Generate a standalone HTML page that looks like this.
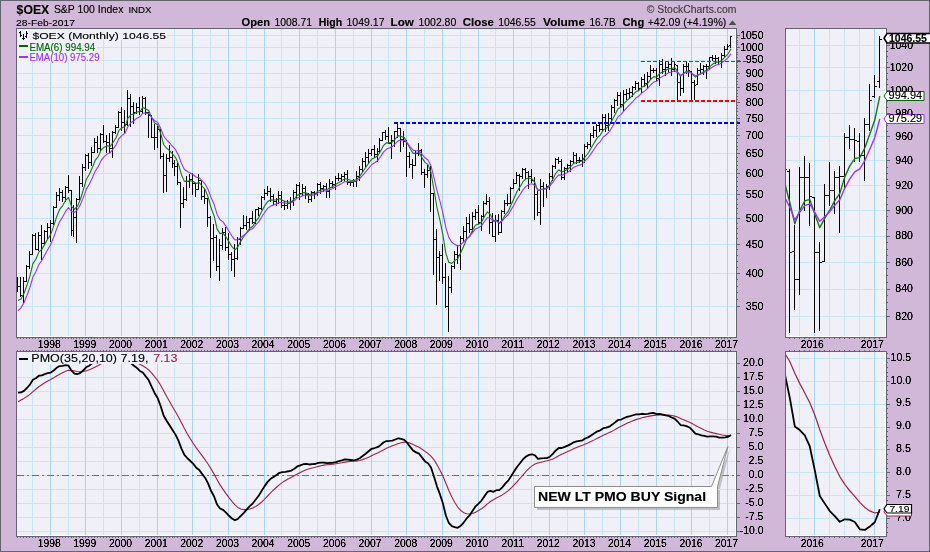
<!DOCTYPE html>
<html><head><meta charset="utf-8"><style>
html,body{margin:0;padding:0;width:930px;height:552px;overflow:hidden;background:#d2b8d8}
</style></head><body>
<svg width="930" height="552" viewBox="0 0 930 552" style="position:absolute;left:0;top:0" shape-rendering="crispEdges">
<defs><filter id="crisp" x="0" y="0" width="100%" height="100%" color-interpolation-filters="sRGB"><feComponentTransfer><feFuncA type="linear" slope="2" intercept="-0.2"/></feComponentTransfer></filter><filter id="soft" x="0" y="0" width="100%" height="100%" color-interpolation-filters="sRGB"><feComponentTransfer><feFuncA type="gamma" amplitude="1" exponent="0.75" offset="0"/></feComponentTransfer></filter></defs>
<rect x="0" y="0" width="930" height="552" fill="#d2b8d8"/>
<rect x="0.5" y="0.5" width="929" height="551" fill="none" stroke="#646470" stroke-width="1"/>
<rect x="16" y="28" width="720" height="309" fill="#eff0f8"/>
<clipPath id="cm"><rect x="17" y="29" width="719" height="308"/></clipPath>
<path d="M17 306.5H736 M17 273.5H736 M17 244.5H736 M17 218.5H736 M17 194.5H736 M17 173.5H736 M17 153.5H736 M17 135.5H736 M17 118.5H736 M17 102.5H736 M17 87.5H736 M17 73.5H736 M17 60.5H736 M17 47.5H736 M17 35.5H736 M32.5 29V337 M68.5 29V337 M103.5 29V337 M139.5 29V337 M174.5 29V337 M210.5 29V337 M246.5 29V337 M281.5 29V337 M317.5 29V337 M353.5 29V337 M388.5 29V337 M424.5 29V337 M460.5 29V337 M495.5 29V337 M531.5 29V337 M567.5 29V337 M602.5 29V337 M638.5 29V337 M674.5 29V337 M709.5 29V337" stroke="#c6e7ef" stroke-width="1" fill="none"/>
<path d="M50.5 29V337 M85.5 29V337 M121.5 29V337 M157.5 29V337 M192.5 29V337 M228.5 29V337 M264.5 29V337 M299.5 29V337 M335.5 29V337 M371.5 29V337 M406.5 29V337 M442.5 29V337 M478.5 29V337 M513.5 29V337 M549.5 29V337 M584.5 29V337 M620.5 29V337 M656.5 29V337 M691.5 29V337 M727.5 29V337" stroke="#a3d7ee" stroke-width="1" fill="none"/>
<g clip-path="url(#cm)">
<path d="M17.5 277V292M16 288.5H17M18 286.5H19 M20.5 277V297M19 286.5H20M21 295.5H22 M23.5 277V303M22 295.5H23M24 281.5H25 M26.5 265V282M25 281.5H26M27 266.5H28 M29.5 251V269M28 266.5H29M30 254.5H31 M32.5 234V255M31 254.5H32M33 235.5H34 M35.5 233V250M34 235.5H35M36 249.5H37 M38.5 232V251M37 249.5H38M39 235.5H40 M41.5 225V260M40 235.5H41M42 243.5H43 M44.5 230V245M43 243.5H44M45 231.5H46 M47.5 223V240M46 231.5H47M48 227.5H49 M50.5 220V242M49 227.5H50M51 223.5H52 M53.5 206V225M52 223.5H53M54 207.5H55 M56.5 192V208M55 207.5H56M57 195.5H58 M59.5 188V201M58 195.5H59M60 192.5H61 M62.5 190V202M61 192.5H62M63 197.5H64 M65.5 186V202M64 197.5H65M66 187.5H67 M68.5 175V193M67 187.5H68M69 190.5H70 M71.5 190V236M70 190.5H71M72 230.5H73 M73.5 205V237M72 230.5H73M74 217.5H75 M76.5 198V243M75 217.5H76M77 199.5H78 M79.5 176V200M78 199.5H79M80 183.5H81 M82.5 164V187M81 183.5H82M83 167.5H84 M85.5 154V171M84 167.5H85M86 155.5H87 M88.5 153V169M87 155.5H88M89 162.5H90 M91.5 147V166M90 162.5H91M92 152.5H93 M94.5 138V153M93 152.5H94M95 142.5H96 M97.5 136V153M96 142.5H97M98 148.5H99 M100.5 133V152M99 148.5H100M101 134.5H102 M103.5 125V143M102 134.5H103M104 141.5H105 M106.5 135V153M105 141.5H106M107 142.5H108 M109.5 133V153M108 142.5H109M110 148.5H111 M112.5 131V158M111 148.5H112M113 132.5H114 M115.5 125V134M114 132.5H115M116 127.5H117 M118.5 111V128M117 127.5H118M119 112.5H120 M121.5 107V131M120 112.5H121M122 122.5H123 M124.5 110V133M123 122.5H124M125 124.5H126 M127.5 90V126M126 124.5H127M128 98.5H129 M130.5 94V127M129 98.5H130M131 106.5H132 M133.5 102V124M132 106.5H133M134 112.5H135 M136.5 103V114M135 112.5H136M137 107.5H138 M139.5 97V115M138 107.5H139M140 111.5H141 M142.5 96V114M141 111.5H142M143 98.5H144 M145.5 97V115M144 98.5H145M146 112.5H147 M148.5 112V138M147 112.5H148M149 115.5H150 M151.5 115V138M150 115.5H151M152 137.5H153 M154.5 124V150M153 137.5H154M155 137.5H156 M157.5 126V148M156 137.5H157M158 129.5H159 M160.5 129V159M159 129.5H160M161 156.5H162 M163.5 153V193M162 156.5H163M164 175.5H165 M166.5 154V192M165 175.5H166M167 158.5H168 M169.5 145V162M168 158.5H169M170 157.5H171 M172.5 151V168M171 157.5H172M173 163.5H174 M174.5 160V176M173 163.5H174M175 166.5H176 M177.5 163V185M176 166.5H177M178 182.5H179 M180.5 182V228M179 182.5H180M181 203.5H182 M183.5 187V208M182 203.5H183M184 199.5H185 M186.5 176V201M185 199.5H186M187 181.5H188 M189.5 174V188M188 181.5H189M190 179.5H191 M192.5 173V195M191 179.5H192M193 183.5H194 M195.5 183V197M194 183.5H195M196 189.5H197 M198.5 174V190M197 189.5H198M199 180.5H200 M201.5 180V200M200 180.5H201M202 196.5H203 M204.5 189V204M203 196.5H204M205 198.5H206 M207.5 198V227M206 198.5H207M208 217.5H209 M210.5 216V278M209 217.5H210M211 238.5H212 M213.5 224V261M212 238.5H213M214 237.5H215 M216.5 235V271M215 237.5H216M217 266.5H218 M219.5 239V281M218 266.5H219M220 245.5H221 M222.5 228V250M221 245.5H222M223 232.5H224 M225.5 227V251M224 232.5H225M226 247.5H227 M228.5 233V260M227 247.5H228M229 254.5H230 M231.5 252V271M230 254.5H231M232 259.5H233 M234.5 244V277M233 259.5H234M235 258.5H236 M237.5 237V260M236 258.5H237M238 239.5H239 M240.5 227V245M239 239.5H240M241 228.5H242 M243.5 215V229M242 228.5H243M244 225.5H245 M246.5 216V230M245 225.5H246M247 222.5H248 M249.5 218V231M248 222.5H249M250 218.5H251 M252.5 211V224M251 218.5H252M253 222.5H254 M255.5 209V224M254 222.5H255M256 209.5H257 M258.5 207V216M257 209.5H258M259 208.5H260 M261.5 196V210M260 208.5H261M262 197.5H263 M264.5 189V200M263 197.5H264M265 193.5H266 M267.5 186V196M266 193.5H267M268 191.5H269 M270.5 188V202M269 191.5H270M271 196.5H272 M273.5 194V205M272 196.5H273M274 201.5H275 M276.5 198V206M275 201.5H276M277 199.5H278 M278.5 191V204M277 199.5H278M279 195.5H280 M281.5 191V208M280 195.5H281M282 205.5H283 M284.5 201V210M283 205.5H284M285 205.5H286 M287.5 200V209M286 205.5H287M288 203.5H289 M290.5 197V210M289 203.5H290M291 201.5H292 M293.5 190V206M292 201.5H293M294 192.5H295 M296.5 184V198M295 192.5H296M297 185.5H298 M299.5 182V200M298 185.5H299M300 193.5H301 M302.5 184V196M301 193.5H302M303 188.5H304 M305.5 186V199M304 188.5H305M306 194.5H307 M308.5 193V203M307 194.5H308M309 199.5H310 M311.5 191V202M310 199.5H311M312 192.5H313 M314.5 191V199M313 192.5H314M315 193.5H316 M317.5 183V196M316 193.5H317M318 184.5H319 M320.5 182V194M319 184.5H320M321 188.5H322 M323.5 185V192M322 188.5H323M324 186.5H325 M326.5 183V198M325 186.5H326M327 191.5H328 M329.5 179V198M328 191.5H329M330 183.5H331 M332.5 181V188M331 183.5H332M333 184.5H334 M335.5 176V190M334 184.5H335M336 178.5H337 M338.5 173V181M337 178.5H338M339 178.5H340 M341.5 174V182M340 178.5H341M342 176.5H343 M344.5 172V181M343 176.5H344M345 174.5H346 M347.5 170V185M346 174.5H347M348 182.5H349 M350.5 181V186M349 182.5H350M351 182.5H352 M353.5 179V187M352 182.5H353M354 181.5H355 M356.5 171V187M355 181.5H356M357 176.5H358 M359.5 166V181M358 176.5H359M360 169.5H361 M362.5 158V172M361 169.5H362M363 161.5H364 M365.5 152V167M364 161.5H365M366 157.5H367 M368.5 149V163M367 157.5H368M369 153.5H370 M371.5 149V156M370 153.5H371M372 149.5H373 M374.5 145V158M373 149.5H374M375 154.5H376 M377.5 148V162M376 154.5H377M378 151.5H379 M379.5 138V153M378 151.5H379M380 140.5H381 M382.5 132V141M381 140.5H382M383 132.5H384 M385.5 130V140M384 132.5H385M386 136.5H387 M388.5 127V144M387 136.5H388M389 143.5H390 M391.5 135V159M390 143.5H391M392 140.5H393 M394.5 131V147M393 140.5H394M395 131.5H396 M397.5 123V138M396 131.5H397M398 128.5H399 M400.5 128V152M399 128.5H400M401 139.5H402 M403.5 131V147M402 139.5H403M404 141.5H405 M406.5 140V177M405 141.5H406M407 156.5H408 M409.5 152V168M408 156.5H409M410 164.5H411 M412.5 159V179M411 164.5H412M413 165.5H414 M415.5 150V166M414 165.5H415M416 153.5H417 M418.5 143V156M417 153.5H418M419 150.5H420 M421.5 149V175M420 150.5H421M422 172.5H423 M424.5 169V188M423 172.5H424M425 174.5H426 M427.5 165V178M426 174.5H427M428 170.5H429 M430.5 166V212M429 170.5H430M431 193.5H432 M433.5 193V275M432 193.5H433M434 239.5H435 M436.5 229V305M435 239.5H436M437 257.5H438 M439.5 251V281M438 257.5H439M440 255.5H441 M442.5 244V284M441 255.5H442M443 277.5H444 M445.5 263V308M444 277.5H445M446 306.5H447 M448.5 276V332M447 306.5H448M449 287.5H450 M451.5 265V293M450 287.5H451M452 266.5H453 M454.5 251V269M453 266.5H454M455 254.5H456 M457.5 245V264M456 254.5H457M458 255.5H459 M460.5 236V270M459 255.5H460M461 238.5H462 M463.5 226V242M462 238.5H463M464 231.5H465 M466.5 217V239M465 231.5H466M467 223.5H468 M469.5 214V233M468 223.5H469M470 229.5H471 M472.5 212V232M471 229.5H472M473 216.5H474 M475.5 209V220M474 216.5H475M476 212.5H477 M478.5 205V224M477 212.5H478M479 222.5H480 M481.5 215V231M480 222.5H481M482 216.5H483 M483.5 201V218M482 216.5H483M484 203.5H485 M486.5 194V205M485 203.5H486M487 201.5H488 M489.5 197V234M488 201.5H489M490 222.5H491 M492.5 213V237M491 222.5H492M493 236.5H494 M495.5 215V242M494 236.5H495M496 220.5H497 M498.5 214V235M497 220.5H498M499 232.5H500 M501.5 210V233M500 232.5H501M502 211.5H503 M504.5 200V214M503 211.5H504M505 203.5H506 M507.5 194V206M506 203.5H507M508 203.5H509 M510.5 187V204M509 203.5H510M511 188.5H512 M513.5 179V189M512 188.5H513M514 183.5H515 M516.5 172V184M515 183.5H516M517 175.5H518 M519.5 174V191M518 175.5H519M520 176.5H521 M522.5 168V179M521 176.5H522M523 169.5H524 M525.5 168V180M524 169.5H525M526 172.5H527 M528.5 171V189M527 172.5H528M529 176.5H530 M531.5 169V183M530 176.5H531M532 180.5H533 M534.5 177V220M533 180.5H534M535 194.5H536 M537.5 191V216M536 194.5H537M538 212.5H539 M540.5 179V225M539 212.5H540M541 186.5H542 M543.5 182V207M542 186.5H543M544 188.5H545 M546.5 184V198M545 188.5H546M547 186.5H548 M549.5 173V190M548 186.5H549M550 176.5H551 M552.5 165V181M551 176.5H552M553 166.5H554 M555.5 158V169M554 166.5H555M556 159.5H557 M558.5 157V164M557 159.5H558M559 161.5H560 M561.5 159V180M560 161.5H561M562 177.5H563 M564.5 167V180M563 177.5H564M565 168.5H566 M567.5 164V172M566 168.5H567M568 165.5H569 M570.5 160V172M569 165.5H570M571 161.5H572 M573.5 152V163M572 161.5H573M574 155.5H575 M576.5 153V164M575 155.5H576M577 160.5H578 M579.5 157V163M578 160.5H579M580 160.5H581 M582.5 154V167M581 160.5H582M583 158.5H584 M584.5 144V163M583 158.5H584M585 146.5H586 M587.5 142V149M586 146.5H587M588 144.5H589 M590.5 133V147M589 144.5H590M591 135.5H592 M593.5 126V138M592 135.5H593M594 130.5H595 M596.5 124V137M595 130.5H596M597 125.5H598 M599.5 122V132M598 125.5H599M600 129.5H601 M602.5 114V131M601 129.5H602M603 117.5H604 M605.5 114V132M604 117.5H605M606 125.5H607 M608.5 113V131M607 125.5H608M609 118.5H610 M611.5 105V122M610 118.5H611M612 107.5H613 M614.5 99V113M613 107.5H614M615 100.5H616 M617.5 92V106M616 100.5H617M618 95.5H619 M620.5 92V107M619 95.5H620M621 104.5H622 M623.5 90V111M622 104.5H623M624 94.5H625 M626.5 89V100M625 94.5H626M627 93.5H628 M629.5 88V99M628 93.5H629M630 92.5H631 M632.5 86V97M631 92.5H632M633 87.5H634 M635.5 81V90M634 87.5H635M636 83.5H637 M638.5 82V91M637 83.5H638M639 88.5H640 M641.5 77V93M640 88.5H641M642 79.5H643 M644.5 74V87M643 79.5H644M645 83.5H646 M647.5 72V89M646 83.5H647M648 76.5H649 M650.5 65V80M649 76.5H650M651 70.5H652 M653.5 68V73M652 70.5H653M654 70.5H655 M656.5 68V81M655 70.5H656M657 78.5H658 M659.5 60V86M658 78.5H659M660 64.5H661 M662.5 59V74M661 64.5H662M663 69.5H664 M665.5 62V76M664 69.5H665M666 67.5H667 M668.5 62V73M667 67.5H668M669 64.5H670 M671.5 58V76M670 64.5H671M672 69.5H673 M674.5 61V72M673 69.5H674M675 64.5H676 M677.5 65V101M676 65.5H677M678 82.5H679 M680.5 76V96M679 82.5H680M681 88.5H682 M683.5 64V93M682 88.5H683M684 66.5H685 M686.5 62V74M685 66.5H686M687 66.5H688 M688.5 63V77M687 66.5H688M689 70.5H690 M691.5 71V101M690 71.5H691M692 82.5H693 M694.5 80V100M693 82.5H694M695 85.5H696 M697.5 68V85M696 84.5H697M698 70.5H699 M700.5 63V73M699 70.5H700M701 69.5H702 M703.5 65V75M702 69.5H703M704 66.5H705 M706.5 64V79M705 66.5H706M707 66.5H708 M709.5 57V70M708 66.5H709M710 57.5H711 M712.5 55V61M711 57.5H712M713 58.5H714 M715.5 55V64M714 58.5H715M716 58.5H717 M718.5 57V64M717 58.5H718M719 61.5H720 M721.5 53V68M720 61.5H721M722 55.5H723 M724.5 46V57M723 55.5H724M725 49.5H726 M727.5 44V50M726 49.5H727M728 46.5H729 M730.5 36V48M729 45.5H730M731 36.5H732" stroke="#000" stroke-width="1" fill="none"/>
<path d="M18.03 300.47 L21 299.02 L23.97 293.61 L26.94 285.3 L29.91 276.05 L32.89 263.59 L35.86 259.25 L38.83 252.1 L41.8 249.45 L44.77 244.13 L47.74 239.01 L50.71 234.43 L53.68 226.14 L56.65 216.68 L59.62 209.46 L62.6 205.83 L65.57 200.43 L68.54 197.5 L71.51 206.45 L74.48 209.3 L77.45 206.22 L80.42 199.22 L83.39 189.58 L86.36 179.24 L89.34 174.32 L92.31 167.8 L95.28 160.22 L98.25 156.56 L101.22 149.84 L104.19 147.28 L107.16 145.7 L110.13 146.39 L113.1 142.3 L116.07 137.8 L119.04 130.1 L122.02 127.71 L124.99 126.64 L127.96 118.23 L130.93 114.77 L133.9 114.02 L136.87 111.89 L139.84 111.65 L142.81 107.57 L145.78 108.93 L148.75 110.58 L151.73 117.72 L154.7 122.98 L157.67 124.81 L160.64 133.3 L163.61 144.47 L166.58 148.18 L169.55 150.54 L172.52 154.01 L175.49 157.28 L178.47 164.12 L181.44 174.68 L184.41 181.36 L187.38 181.3 L190.35 180.75 L193.32 181.49 L196.29 183.53 L199.26 182.52 L202.23 186.26 L205.2 189.65 L208.17 197.18 L211.15 208.06 L214.12 215.88 L217.09 229.08 L220.06 233.6 L223.03 233.08 L226 237.08 L228.97 241.91 L231.94 246.74 L234.91 249.86 L237.88 246.77 L240.86 241.13 L243.83 236.54 L246.8 232.31 L249.77 228.23 L252.74 226.41 L255.71 221.4 L258.68 217.56 L261.65 211.39 L264.62 206 L267.6 201.58 L270.57 199.9 L273.54 200.16 L276.51 199.73 L279.48 198.41 L282.45 200.16 L285.42 201.5 L288.39 202.06 L291.36 201.72 L294.33 199.03 L297.31 195.06 L300.28 194.35 L303.25 192.64 L306.22 192.91 L309.19 194.66 L312.16 193.96 L315.13 193.6 L318.1 190.94 L321.07 189.99 L324.04 188.96 L327.01 189.61 L329.99 187.75 L332.96 186.62 L335.93 184.15 L338.9 182.5 L341.87 180.67 L344.84 178.63 L347.81 179.53 L350.78 180.3 L353.75 180.63 L356.73 179.23 L359.7 176.37 L362.67 171.95 L365.64 167.52 L368.61 163.35 L371.58 159.27 L374.55 157.82 L377.52 155.93 L380.49 151.36 L383.46 145.62 L386.44 142.76 L389.41 142.9 L392.38 142.07 L395.35 138.92 L398.32 135.61 L401.29 136.44 L404.26 137.62 L407.23 142.75 L410.2 148.72 L413.17 153.35 L416.15 153.35 L419.12 152.47 L422.09 157.88 L425.06 162.36 L428.03 164.65 L431 172.54 L433.97 189.72 L436.94 207.27 L439.91 220.01 L442.88 234.93 L445.86 253.31 L448.83 262.46 L451.8 263.38 L454.77 260.6 L457.74 258.88 L460.71 252.68 L463.68 246.17 L466.65 239.26 L469.62 236.18 L472.59 230.17 L475.57 224.93 L478.54 224.23 L481.51 221.98 L484.48 216.49 L487.45 211.83 L490.42 214.65 L493.39 220.49 L496.36 220.22 L499.33 223.46 L502.3 219.91 L505.27 214.82 L508.25 211.47 L511.22 204.51 L514.19 198.05 L517.16 191.26 L520.13 186.66 L523.1 181.42 L526.07 178.79 L529.04 177.99 L532.01 178.7 L534.99 182.99 L537.96 190.83 L540.93 189.49 L543.9 189 L546.87 188.14 L549.84 184.55 L552.81 179.21 L555.78 173.27 L558.75 169.77 L561.72 171.94 L564.7 170.84 L567.67 169.23 L570.64 166.76 L573.61 163.35 L576.58 162.44 L579.55 161.66 L582.52 160.68 L585.49 156.5 L588.46 152.76 L591.43 147.53 L594.4 142.54 L597.38 137.53 L600.35 135.1 L603.32 129.87 L606.29 128.49 L609.26 125.4 L612.23 120.03 L615.2 114.22 L618.17 108.46 L621.14 107.2 L624.12 103.42 L627.09 100.41 L630.06 97.98 L633.03 94.92 L636 91.55 L638.97 90.41 L641.94 87.09 L644.91 85.79 L647.88 83.06 L650.85 79.21 L653.83 76.65 L656.8 76.93 L659.77 73.29 L662.74 71.98 L665.71 70.43 L668.68 68.58 L671.65 68.76 L674.62 67.5 L677.59 71.69 L680.56 76.31 L683.54 73.37 L686.51 71.32 L689.48 71.01 L692.45 74.21 L695.42 77.13 L698.39 75.07 L701.36 73.34 L704.33 71.27 L707.3 69.71 L710.27 66.13 L713.25 63.75 L716.22 62.16 L719.19 61.96 L722.16 59.88 L725.13 56.85 L728.1 53.83 L731.07 48.67" stroke="#137a13" stroke-width="1.1" fill="none" stroke-linejoin="round" shape-rendering="geometricPrecision" />
<path d="M18.03 310.73 L21 307.87 L23.97 302.68 L26.94 295.53 L29.91 287.51 L32.89 277.08 L35.86 271.68 L38.83 264.61 L41.8 260.52 L44.77 254.95 L47.74 249.56 L50.71 244.58 L53.68 237.21 L56.65 228.88 L59.62 221.81 L62.6 217.11 L65.57 211.44 L68.54 207.46 L71.51 211.47 L74.48 212.39 L77.45 209.84 L80.42 204.64 L83.39 197.36 L86.36 189.13 L89.34 184.05 L92.31 177.95 L95.28 171.06 L98.25 166.64 L101.22 160.33 L104.19 156.7 L107.16 153.92 L110.13 152.85 L113.1 149 L116.07 144.83 L119.04 138.5 L122.02 135.38 L124.99 133.27 L127.96 126.55 L130.93 122.75 L133.9 120.78 L136.87 118.15 L139.84 116.85 L142.81 113.25 L145.78 113.09 L148.75 113.39 L151.73 117.43 L154.7 120.82 L157.67 122.37 L160.64 128.13 L163.61 136 L166.58 139.8 L169.55 142.76 L172.52 146.3 L175.49 149.71 L178.47 155.29 L181.44 163.34 L184.41 169.44 L187.38 171.53 L190.35 172.93 L193.32 174.79 L196.29 177.27 L199.26 177.77 L202.23 180.96 L205.2 184.03 L208.17 189.72 L211.15 197.76 L214.12 204.38 L217.09 214.43 L220.06 219.76 L223.03 221.9 L226 226.34 L228.97 231.21 L231.94 236.08 L234.91 239.89 L237.88 239.77 L240.86 237.51 L243.83 235.26 L246.8 232.81 L249.77 230.11 L252.74 228.6 L255.71 224.98 L258.68 221.84 L261.65 217.06 L264.62 212.51 L267.6 208.43 L270.57 206.08 L273.54 205.11 L276.51 203.93 L279.48 202.3 L282.45 202.72 L285.42 203.11 L288.39 203.18 L291.36 202.76 L294.33 200.84 L297.31 197.96 L300.28 196.98 L303.25 195.4 L306.22 195.07 L309.19 195.79 L312.16 195.14 L315.13 194.69 L318.1 192.79 L321.07 191.85 L324.04 190.85 L327.01 190.92 L329.99 189.49 L332.96 188.45 L335.93 186.53 L338.9 185.04 L341.87 183.4 L344.84 181.59 L347.81 181.63 L350.78 181.74 L353.75 181.68 L356.73 180.6 L359.7 178.52 L362.67 175.29 L365.64 171.82 L368.61 168.33 L371.58 164.77 L374.55 162.82 L377.52 160.68 L380.49 156.84 L383.46 152.11 L386.44 149.05 L389.41 147.98 L392.38 146.51 L395.35 143.66 L398.32 140.65 L401.29 140.26 L404.26 140.32 L407.23 143.11 L410.2 146.83 L413.17 150.09 L416.15 150.68 L419.12 150.61 L422.09 154.35 L425.06 157.8 L428.03 160.05 L431 165.8 L433.97 177.56 L436.94 190.3 L439.91 200.89 L442.88 213.05 L445.86 227.59 L448.83 237.38 L451.8 242.29 L454.77 244.34 L457.74 246.18 L460.71 244.64 L463.68 242.03 L466.65 238.42 L469.62 236.61 L472.59 232.68 L475.57 228.85 L478.54 227.68 L481.51 225.6 L484.48 221.38 L487.45 217.46 L490.42 218.26 L493.39 221.34 L496.36 221.01 L499.33 222.93 L502.3 220.76 L505.27 217.35 L508.25 214.73 L511.22 209.64 L514.19 204.49 L517.16 198.87 L520.13 194.46 L523.1 189.59 L526.07 186.36 L529.04 184.44 L532.01 183.72 L534.99 185.57 L537.96 190.1 L540.93 189.38 L543.9 189.09 L546.87 188.52 L549.84 186.16 L552.81 182.43 L555.78 178.01 L558.75 174.88 L561.72 175.34 L564.7 174.01 L567.67 172.4 L570.64 170.22 L573.61 167.39 L576.58 166.06 L579.55 164.9 L582.52 163.68 L585.49 160.43 L588.46 157.29 L591.43 153.07 L594.4 148.81 L597.38 144.39 L600.35 141.55 L603.32 136.95 L606.29 134.75 L609.26 131.59 L612.23 126.95 L615.2 121.88 L618.17 116.69 L621.14 114.35 L624.12 110.57 L627.09 107.28 L630.06 104.44 L633.03 101.26 L636 97.89 L638.97 95.99 L641.94 92.81 L644.91 90.91 L647.88 88.2 L650.85 84.76 L653.83 82.08 L656.8 81.27 L659.77 78.12 L662.74 76.38 L665.71 74.58 L668.68 72.62 L671.65 72 L674.62 70.6 L677.59 72.71 L680.56 75.47 L683.54 73.75 L686.51 72.37 L689.48 71.99 L692.45 73.84 L695.42 75.76 L698.39 74.7 L701.36 73.67 L704.33 72.29 L707.3 71.11 L710.27 68.55 L713.25 66.58 L716.22 65.05 L719.19 64.39 L722.16 62.61 L725.13 60.16 L728.1 57.61 L731.07 53.58" stroke="#9b30ff" stroke-width="1.1" fill="none" stroke-linejoin="round" shape-rendering="geometricPrecision" />
</g>
<path d="M641 61.5H746" stroke="#ff0000" stroke-width="1" stroke-dasharray="4 2"/>
<path d="M641 101H736" stroke="#ff0000" stroke-width="2" stroke-dasharray="4 2"/>
<path d="M394 123H740" stroke="#0000ff" stroke-width="2" stroke-dasharray="4 2"/>
<path d="M17 336.5H735.5V29" fill="none" stroke="#ffffff" stroke-width="1"/>
<rect x="16.5" y="28.5" width="720" height="309" fill="none" stroke="#646470" stroke-width="1"/>
<rect x="785" y="28" width="101" height="309" fill="#eff0f8"/>
<clipPath id="cr"><rect x="786" y="29" width="100" height="308"/></clipPath>
<path d="M786 316.5H886 M786 289.5H886 M786 262.5H886 M786 236.5H886 M786 210.5H886 M786 185.5H886 M786 160.5H886 M786 136.5H886 M786 113.5H886 M786 90.5H886 M786 67.5H886 M786 45.5H886 M799.5 29V337 M829.5 29V337 M844.5 29V337 M859.5 29V337" stroke="#c6e7ef" stroke-width="1" fill="none"/>
<path d="M814.5 29V337 M874.5 29V337" stroke="#a3d7ee" stroke-width="1" fill="none"/>
<g clip-path="url(#cr)">
<path d="M784.5 153V203M782 189.5H784M785 169.5H787 M789.5 169V333M787 171.5H789M790 252.5H792 M794.5 225V310M792 251.5H794M795 279.5H797 M799.5 167V295M797 279.5H799M800 177.5H802 M804.5 156V211M802 177.5H804M805 177.5H807 M809.5 163V226M807 177.5H809M810 196.5H812 M814.5 197V333M812 197.5H814M815 252.5H817 M819.5 242V331M817 252.5H819M820 262.5H822 M824.5 184V262M822 261.5H824M825 195.5H827 M829.5 162V206M827 195.5H829M830 190.5H832 M834.5 171V214M832 190.5H834M835 177.5H837 M839.5 166V233M837 177.5H839M840 176.5H842 M844.5 133V190M842 176.5H844M845 137.5H847 M849.5 125V149M847 137.5H849M850 139.5H852 M854.5 128V162M852 139.5H854M855 140.5H857 M859.5 133V162M857 141.5H859M860 155.5H862 M864.5 118V181M862 155.5H864M865 124.5H867 M869.5 84V131M867 124.5H869M870 100.5H872 M874.5 75V98M872 96.5H874M875 86.5H877 M879.5 36V88M877 81.5H879M880 39.5H882" stroke="#000" stroke-width="1" fill="none"/>
<path d="M784.8 183.2 L789.8 202.51 L794.8 223.87 L799.8 210.27 L804.8 200.8 L809.8 199.4 L814.8 214.15 L819.8 227.66 L824.8 218.14 L829.8 210.15 L834.8 200.57 L839.8 193.38 L844.8 176.84 L849.8 165.87 L854.8 158.55 L859.8 157.62 L864.8 147.99 L869.8 134.03 L874.8 120.09 L879.8 96.23" stroke="#137a13" stroke-width="1.4" fill="none" stroke-linejoin="round" shape-rendering="geometricPrecision" />
<path d="M784.8 197.49 L789.8 207.25 L794.8 219.98 L799.8 212.04 L804.8 205.67 L809.8 203.89 L814.8 212.47 L819.8 221.34 L824.8 216.44 L829.8 211.67 L834.8 205.28 L839.8 199.83 L844.8 188.05 L849.8 178.96 L854.8 171.86 L859.8 168.83 L864.8 160.59 L869.8 149.31 L874.8 137.53 L879.8 118.9" stroke="#9b30ff" stroke-width="1.4" fill="none" stroke-linejoin="round" shape-rendering="geometricPrecision" />
</g>
<path d="M786 336.5H885.5V29" fill="none" stroke="#ffffff" stroke-width="1"/>
<rect x="785.5" y="28.5" width="101" height="309" fill="none" stroke="#646470" stroke-width="1"/>
<rect x="16" y="351" width="720" height="185" fill="#eff0f8"/>
<clipPath id="cp"><rect x="17" y="352" width="719" height="184"/></clipPath>
<path d="M17 531.5H736 M17 517.5H736 M17 503.5H736 M17 489.5H736 M17 475.5H736 M17 461.5H736 M17 447.5H736 M17 433.5H736 M17 419.5H736 M17 405.5H736 M17 391.5H736 M17 377.5H736 M17 363.5H736 M32.5 352V536 M68.5 352V536 M103.5 352V536 M139.5 352V536 M174.5 352V536 M210.5 352V536 M246.5 352V536 M281.5 352V536 M317.5 352V536 M353.5 352V536 M388.5 352V536 M424.5 352V536 M460.5 352V536 M495.5 352V536 M531.5 352V536 M567.5 352V536 M602.5 352V536 M638.5 352V536 M674.5 352V536 M709.5 352V536" stroke="#c6e7ef" stroke-width="1" fill="none"/>
<path d="M50.5 352V536 M85.5 352V536 M121.5 352V536 M157.5 352V536 M192.5 352V536 M228.5 352V536 M264.5 352V536 M299.5 352V536 M335.5 352V536 M371.5 352V536 M406.5 352V536 M442.5 352V536 M478.5 352V536 M513.5 352V536 M549.5 352V536 M584.5 352V536 M620.5 352V536 M656.5 352V536 M691.5 352V536 M727.5 352V536" stroke="#a3d7ee" stroke-width="1" fill="none"/>
<g clip-path="url(#cp)">
<path d="M17 475.5H736" stroke="#707070" stroke-width="1" stroke-dasharray="7 3 2 3"/>
<path d="M18.03 401.77 L21 400.08 L23.97 398.4 L26.94 396.52 L29.91 394.36 L32.89 391.7 L35.86 389.25 L38.83 386.79 L41.8 384.7 L44.77 382.77 L47.74 381.01 L50.71 379.47 L53.68 377.83 L56.65 376.01 L59.62 374.2 L62.6 372.68 L65.57 371.32 L68.54 370.3 L71.51 370.36 L74.48 370.94 L77.45 371.52 L80.42 371.77 L83.39 371.5 L86.36 370.68 L89.34 369.78 L92.31 368.55 L95.28 366.98 L98.25 365.41 L101.22 363.67 L104.19 362.24 L107.16 361.2 L110.13 360.69 L113.1 360.3 L116.07 359.97 L119.04 359.48 L122.02 359.43 L124.99 359.9 L127.96 360.2 L130.93 360.72 L133.9 361.63 L136.87 362.77 L139.84 364.25 L142.81 365.75 L145.78 367.67 L148.75 369.97 L151.73 373.05 L154.7 376.72 L157.67 380.6 L160.64 385.22 L163.61 390.74 L166.58 396.2 L169.55 401.48 L172.52 406.67 L175.49 411.75 L178.47 417.02 L181.44 422.76 L184.41 428.59 L187.38 433.98 L190.35 438.89 L193.32 443.44 L196.29 447.87 L199.26 451.9 L202.23 455.94 L205.2 459.94 L208.17 464.25 L211.15 469.12 L214.12 474.11 L217.09 479.64 L220.06 484.89 L223.03 489.42 L226 493.65 L228.97 497.68 L231.94 501.46 L234.91 504.87 L237.88 507.43 L240.86 508.97 L243.83 509.67 L246.8 509.62 L249.77 508.98 L252.74 507.99 L255.71 506.44 L258.68 504.5 L261.65 502.02 L264.62 499.13 L267.6 496 L270.57 492.88 L273.54 489.98 L276.51 487.24 L279.48 484.61 L282.45 482.35 L285.42 480.42 L288.39 478.76 L291.36 477.26 L294.33 475.72 L297.31 474.04 L300.28 472.47 L303.25 470.97 L306.22 469.69 L309.19 468.75 L312.16 467.91 L315.13 467.2 L318.1 466.41 L321.07 465.74 L324.04 465.16 L327.01 464.8 L329.99 464.44 L332.96 464.13 L335.93 463.75 L338.9 463.29 L341.87 462.75 L344.84 462.12 L347.81 461.66 L350.78 461.36 L353.75 461.18 L356.73 460.9 L359.7 460.42 L362.67 459.63 L365.64 458.55 L368.61 457.23 L371.58 455.7 L374.55 454.3 L377.52 453 L380.49 451.57 L383.46 449.92 L386.44 448.31 L389.41 446.97 L392.38 445.83 L395.35 444.68 L398.32 443.52 L401.29 442.67 L404.26 442.17 L407.23 442.31 L410.2 443.14 L413.17 444.5 L416.15 445.94 L419.12 447.34 L422.09 449.21 L425.06 451.43 L428.03 453.57 L431 456.11 L433.97 459.82 L436.94 464.65 L439.91 470.02 L442.88 476.07 L445.86 483.23 L448.83 490.46 L451.8 496.96 L454.77 502.45 L457.74 507.07 L460.71 510.48 L463.68 512.68 L466.65 513.72 L469.62 514.03 L472.59 513.45 L475.57 512.15 L478.54 510.59 L481.51 508.77 L484.48 506.47 L487.45 503.83 L490.42 501.48 L493.39 499.71 L496.36 497.99 L499.33 496.57 L502.3 494.9 L505.27 492.86 L508.25 490.64 L511.22 487.97 L514.19 484.93 L517.16 481.62 L520.13 478.24 L523.1 474.78 L526.07 471.46 L529.04 468.44 L532.01 465.87 L534.99 463.97 L537.96 463.03 L540.93 462.17 L543.9 461.45 L546.87 460.83 L549.84 460.09 L552.81 458.95 L555.78 457.41 L558.75 455.69 L561.72 454.3 L564.7 452.95 L567.67 451.62 L570.64 450.27 L573.61 448.82 L576.58 447.48 L579.55 446.28 L582.52 445.18 L585.49 443.93 L588.46 442.7 L591.43 441.34 L594.4 439.88 L597.38 438.31 L600.35 436.86 L603.32 435.29 L606.29 433.91 L609.26 432.59 L612.23 431.14 L615.2 429.53 L618.17 427.79 L621.14 426.29 L624.12 424.79 L627.09 423.35 L630.06 422.04 L633.03 420.81 L636 419.63 L638.97 418.68 L641.94 417.79 L644.91 417.1 L647.88 416.5 L650.85 415.89 L653.83 415.36 L656.8 415.14 L659.77 414.91 L662.74 414.85 L665.71 414.93 L668.68 415.11 L671.65 415.55 L674.62 416.11 L677.59 417.09 L680.56 418.54 L683.54 419.8 L686.51 420.95 L689.48 422.14 L692.45 423.64 L695.42 425.44 L698.39 427.08 L701.36 428.59 L704.33 429.93 L707.3 431.16 L710.27 432.11 L713.25 432.9 L716.22 433.59 L719.19 434.32 L722.16 434.93 L725.13 435.36 L728.1 435.61 L731.07 435.53" stroke="#a0204a" stroke-width="1.1" fill="none" stroke-linejoin="round" shape-rendering="geometricPrecision" />
<path d="M18.03 392.6 L21 392.46 L23.97 390.86 L26.94 388.02 L29.91 384.65 L32.89 379.73 L35.86 378.2 L38.83 375.74 L41.8 375.31 L44.77 374.08 L47.74 373.1 L50.71 372.52 L53.68 370.47 L56.65 367.84 L59.62 366.04 L62.6 365.85 L65.57 365.17 L68.54 365.72 L71.51 370.64 L74.48 373.53 L77.45 374.12 L80.42 372.89 L83.39 370.28 L86.36 367.03 L89.34 365.7 L92.31 363.04 L95.28 359.89 L98.25 358.37 L101.22 355.84 L104.19 355.82 L107.16 356.48 L110.13 358.43 L113.1 358.54 L116.07 358.48 L119.04 357.26 L122.02 359.25 L124.99 361.99 L127.96 361.58 L130.93 363.02 L133.9 365.74 L136.87 367.87 L139.84 370.95 L142.81 372.48 L145.78 376.33 L148.75 380.29 L151.73 386.95 L154.7 393.19 L157.67 398.09 L160.64 406 L163.61 415.56 L166.58 420.77 L169.55 425.24 L172.52 430.03 L175.49 434.63 L178.47 440.72 L181.44 448.62 L184.41 454.79 L187.38 458.23 L190.35 460.99 L193.32 463.9 L196.29 467.8 L199.26 470.07 L202.23 474.11 L205.2 477.95 L208.17 483.63 L211.15 491.05 L214.12 496.52 L217.09 504.57 L220.06 508.49 L223.03 509.81 L226 512.68 L228.97 515.79 L231.94 518.47 L234.91 520.25 L237.88 518.92 L240.86 515.92 L243.83 512.79 L246.8 509.4 L249.77 506.09 L252.74 503.53 L255.71 499.49 L258.68 495.74 L261.65 490.87 L264.62 486.14 L267.6 481.89 L270.57 478.86 L273.54 476.9 L276.51 474.93 L279.48 472.78 L282.45 472.16 L285.42 471.77 L288.39 471.26 L291.36 470.52 L294.33 468.8 L297.31 466.46 L300.28 465.43 L303.25 464.22 L306.22 463.94 L309.19 464.49 L312.16 464.14 L315.13 464 L318.1 462.88 L321.07 462.71 L324.04 462.55 L327.01 463.19 L329.99 462.81 L332.96 462.73 L335.93 462.06 L338.9 461.22 L341.87 460.31 L344.84 459.3 L347.81 459.6 L350.78 460.01 L353.75 460.36 L356.73 459.66 L359.7 458.27 L362.67 456.07 L365.64 453.69 L368.61 451.28 L371.58 448.81 L374.55 448.01 L377.52 447.13 L380.49 445.13 L383.46 442.52 L386.44 441.04 L389.41 440.97 L392.38 440.68 L395.35 439.51 L398.32 438.28 L401.29 438.87 L404.26 439.89 L407.23 442.94 L410.2 446.91 L413.17 450.62 L416.15 452.39 L419.12 453.67 L422.09 457.64 L425.06 461.42 L428.03 463.21 L431 467.54 L433.97 476.52 L436.94 486.35 L439.91 494.19 L442.88 503.3 L445.86 515.46 L448.83 522.97 L451.8 526.23 L454.77 527.17 L457.74 527.82 L460.71 525.86 L463.68 522.55 L466.65 518.42 L469.62 515.4 L472.59 510.86 L475.57 506.33 L478.54 503.57 L481.51 500.56 L484.48 496.13 L487.45 491.92 L490.42 490.92 L493.39 491.76 L496.36 490.22 L499.33 490.22 L502.3 487.35 L505.27 483.69 L508.25 480.64 L511.22 475.95 L514.19 471.26 L517.16 466.73 L520.13 463.05 L523.1 459.18 L526.07 456.51 L529.04 454.88 L532.01 454.27 L534.99 455.44 L537.96 458.79 L540.93 458.29 L543.9 458.22 L546.87 458.06 L549.84 456.73 L552.81 453.83 L555.78 450.47 L558.75 447.99 L561.72 448.01 L564.7 446.88 L567.67 445.64 L570.64 444.17 L573.61 442.29 L576.58 441.48 L579.55 440.86 L582.52 440.27 L585.49 438.31 L588.46 437.13 L591.43 435.23 L594.4 433.3 L597.38 431.27 L600.35 430.32 L603.32 428.23 L606.29 427.72 L609.26 426.64 L612.23 424.61 L615.2 422.31 L618.17 419.97 L621.14 419.54 L624.12 418 L627.09 416.88 L630.06 416.14 L633.03 415.26 L636 414.32 L638.97 414.43 L641.94 413.77 L644.91 414.03 L647.88 413.8 L650.85 413.12 L653.83 412.98 L656.8 414.15 L659.77 413.88 L662.74 414.59 L665.71 415.29 L668.68 415.93 L671.65 417.52 L674.62 418.6 L677.59 421.54 L680.56 425.03 L683.54 425.47 L686.51 426.14 L689.48 427.48 L692.45 430.4 L695.42 433.53 L698.39 434.47 L701.36 435.38 L704.33 435.99 L707.3 436.69 L710.27 436.39 L713.25 436.43 L716.22 436.72 L719.19 437.61 L722.16 437.69 L725.13 437.27 L728.1 436.74 L731.07 435.15" stroke="#000" stroke-width="1.8" fill="none" stroke-linejoin="round" shape-rendering="geometricPrecision" />
</g>
<path d="M17 535.5H735.5V352" fill="none" stroke="#ffffff" stroke-width="1"/>
<rect x="16.5" y="351.5" width="720" height="185" fill="none" stroke="#646470" stroke-width="1"/>
<rect x="785" y="351" width="101" height="185" fill="#eff0f8"/>
<clipPath id="cq"><rect x="786" y="352" width="100" height="184"/></clipPath>
<path d="M786 518.5H886 M786 495.5H886 M786 472.5H886 M786 449.5H886 M786 427.5H886 M786 404.5H886 M786 381.5H886 M786 358.5H886 M799.5 352V536 M829.5 352V536 M844.5 352V536 M859.5 352V536" stroke="#c6e7ef" stroke-width="1" fill="none"/>
<path d="M814.5 352V536 M874.5 352V536" stroke="#a3d7ee" stroke-width="1" fill="none"/>
<g clip-path="url(#cq)">
<path d="M784.8 353.45 L789.8 361.53 L794.8 373.32 L799.8 383.63 L804.8 393.06 L809.8 402.77 L814.8 415.06 L819.8 429.77 L824.8 443.2 L829.8 455.53 L834.8 466.54 L839.8 476.58 L844.8 484.35 L849.8 490.77 L854.8 496.45 L859.8 502.42 L864.8 507.43 L869.8 510.9 L874.8 512.96 L879.8 512.28" stroke="#a0204a" stroke-width="1.2" fill="none" stroke-linejoin="round" shape-rendering="geometricPrecision" />
<path d="M784.8 373.88 L789.8 397.88 L794.8 426.4 L799.8 430.03 L804.8 435.48 L809.8 446.46 L814.8 470.38 L819.8 495.97 L824.8 503.63 L829.8 511.04 L834.8 516.05 L839.8 521.79 L844.8 519.31 L849.8 519.63 L854.8 522.06 L859.8 529.29 L864.8 529.93 L869.8 526.55 L874.8 522.21 L879.8 509.21" stroke="#000" stroke-width="1.8" fill="none" stroke-linejoin="round" shape-rendering="geometricPrecision" />
</g>
<path d="M786 535.5H885.5V352" fill="none" stroke="#ffffff" stroke-width="1"/>
<rect x="785.5" y="351.5" width="101" height="185" fill="none" stroke="#646470" stroke-width="1"/>
<path d="M17.5 338V339M17.5 350V351M17.5 537V538 M20.5 338V339M20.5 350V351M20.5 537V538 M23.5 338V339M23.5 350V351M23.5 537V538 M26.5 338V339M26.5 350V351M26.5 537V538 M29.5 338V339M29.5 350V351M29.5 537V538 M32.5 338V339M32.5 350V351M32.5 537V538 M35.5 338V339M35.5 350V351M35.5 537V538 M38.5 338V339M38.5 350V351M38.5 537V538 M41.5 338V339M41.5 350V351M41.5 537V538 M44.5 338V339M44.5 350V351M44.5 537V538 M47.5 338V339M47.5 350V351M47.5 537V538 M50.5 338V339M50.5 350V351M50.5 537V538 M53.5 338V339M53.5 350V351M53.5 537V538 M56.5 338V339M56.5 350V351M56.5 537V538 M59.5 338V339M59.5 350V351M59.5 537V538 M62.5 338V339M62.5 350V351M62.5 537V538 M65.5 338V339M65.5 350V351M65.5 537V538 M68.5 338V339M68.5 350V351M68.5 537V538 M71.5 338V339M71.5 350V351M71.5 537V538 M73.5 338V339M73.5 350V351M73.5 537V538 M76.5 338V339M76.5 350V351M76.5 537V538 M79.5 338V339M79.5 350V351M79.5 537V538 M82.5 338V339M82.5 350V351M82.5 537V538 M85.5 338V339M85.5 350V351M85.5 537V538 M88.5 338V339M88.5 350V351M88.5 537V538 M91.5 338V339M91.5 350V351M91.5 537V538 M94.5 338V339M94.5 350V351M94.5 537V538 M97.5 338V339M97.5 350V351M97.5 537V538 M100.5 338V339M100.5 350V351M100.5 537V538 M103.5 338V339M103.5 350V351M103.5 537V538 M106.5 338V339M106.5 350V351M106.5 537V538 M109.5 338V339M109.5 350V351M109.5 537V538 M112.5 338V339M112.5 350V351M112.5 537V538 M115.5 338V339M115.5 350V351M115.5 537V538 M118.5 338V339M118.5 350V351M118.5 537V538 M121.5 338V339M121.5 350V351M121.5 537V538 M124.5 338V339M124.5 350V351M124.5 537V538 M127.5 338V339M127.5 350V351M127.5 537V538 M130.5 338V339M130.5 350V351M130.5 537V538 M133.5 338V339M133.5 350V351M133.5 537V538 M136.5 338V339M136.5 350V351M136.5 537V538 M139.5 338V339M139.5 350V351M139.5 537V538 M142.5 338V339M142.5 350V351M142.5 537V538 M145.5 338V339M145.5 350V351M145.5 537V538 M148.5 338V339M148.5 350V351M148.5 537V538 M151.5 338V339M151.5 350V351M151.5 537V538 M154.5 338V339M154.5 350V351M154.5 537V538 M157.5 338V339M157.5 350V351M157.5 537V538 M160.5 338V339M160.5 350V351M160.5 537V538 M163.5 338V339M163.5 350V351M163.5 537V538 M166.5 338V339M166.5 350V351M166.5 537V538 M169.5 338V339M169.5 350V351M169.5 537V538 M172.5 338V339M172.5 350V351M172.5 537V538 M174.5 338V339M174.5 350V351M174.5 537V538 M177.5 338V339M177.5 350V351M177.5 537V538 M180.5 338V339M180.5 350V351M180.5 537V538 M183.5 338V339M183.5 350V351M183.5 537V538 M186.5 338V339M186.5 350V351M186.5 537V538 M189.5 338V339M189.5 350V351M189.5 537V538 M192.5 338V339M192.5 350V351M192.5 537V538 M195.5 338V339M195.5 350V351M195.5 537V538 M198.5 338V339M198.5 350V351M198.5 537V538 M201.5 338V339M201.5 350V351M201.5 537V538 M204.5 338V339M204.5 350V351M204.5 537V538 M207.5 338V339M207.5 350V351M207.5 537V538 M210.5 338V339M210.5 350V351M210.5 537V538 M213.5 338V339M213.5 350V351M213.5 537V538 M216.5 338V339M216.5 350V351M216.5 537V538 M219.5 338V339M219.5 350V351M219.5 537V538 M222.5 338V339M222.5 350V351M222.5 537V538 M225.5 338V339M225.5 350V351M225.5 537V538 M228.5 338V339M228.5 350V351M228.5 537V538 M231.5 338V339M231.5 350V351M231.5 537V538 M234.5 338V339M234.5 350V351M234.5 537V538 M237.5 338V339M237.5 350V351M237.5 537V538 M240.5 338V339M240.5 350V351M240.5 537V538 M243.5 338V339M243.5 350V351M243.5 537V538 M246.5 338V339M246.5 350V351M246.5 537V538 M249.5 338V339M249.5 350V351M249.5 537V538 M252.5 338V339M252.5 350V351M252.5 537V538 M255.5 338V339M255.5 350V351M255.5 537V538 M258.5 338V339M258.5 350V351M258.5 537V538 M261.5 338V339M261.5 350V351M261.5 537V538 M264.5 338V339M264.5 350V351M264.5 537V538 M267.5 338V339M267.5 350V351M267.5 537V538 M270.5 338V339M270.5 350V351M270.5 537V538 M273.5 338V339M273.5 350V351M273.5 537V538 M276.5 338V339M276.5 350V351M276.5 537V538 M278.5 338V339M278.5 350V351M278.5 537V538 M281.5 338V339M281.5 350V351M281.5 537V538 M284.5 338V339M284.5 350V351M284.5 537V538 M287.5 338V339M287.5 350V351M287.5 537V538 M290.5 338V339M290.5 350V351M290.5 537V538 M293.5 338V339M293.5 350V351M293.5 537V538 M296.5 338V339M296.5 350V351M296.5 537V538 M299.5 338V339M299.5 350V351M299.5 537V538 M302.5 338V339M302.5 350V351M302.5 537V538 M305.5 338V339M305.5 350V351M305.5 537V538 M308.5 338V339M308.5 350V351M308.5 537V538 M311.5 338V339M311.5 350V351M311.5 537V538 M314.5 338V339M314.5 350V351M314.5 537V538 M317.5 338V339M317.5 350V351M317.5 537V538 M320.5 338V339M320.5 350V351M320.5 537V538 M323.5 338V339M323.5 350V351M323.5 537V538 M326.5 338V339M326.5 350V351M326.5 537V538 M329.5 338V339M329.5 350V351M329.5 537V538 M332.5 338V339M332.5 350V351M332.5 537V538 M335.5 338V339M335.5 350V351M335.5 537V538 M338.5 338V339M338.5 350V351M338.5 537V538 M341.5 338V339M341.5 350V351M341.5 537V538 M344.5 338V339M344.5 350V351M344.5 537V538 M347.5 338V339M347.5 350V351M347.5 537V538 M350.5 338V339M350.5 350V351M350.5 537V538 M353.5 338V339M353.5 350V351M353.5 537V538 M356.5 338V339M356.5 350V351M356.5 537V538 M359.5 338V339M359.5 350V351M359.5 537V538 M362.5 338V339M362.5 350V351M362.5 537V538 M365.5 338V339M365.5 350V351M365.5 537V538 M368.5 338V339M368.5 350V351M368.5 537V538 M371.5 338V339M371.5 350V351M371.5 537V538 M374.5 338V339M374.5 350V351M374.5 537V538 M377.5 338V339M377.5 350V351M377.5 537V538 M379.5 338V339M379.5 350V351M379.5 537V538 M382.5 338V339M382.5 350V351M382.5 537V538 M385.5 338V339M385.5 350V351M385.5 537V538 M388.5 338V339M388.5 350V351M388.5 537V538 M391.5 338V339M391.5 350V351M391.5 537V538 M394.5 338V339M394.5 350V351M394.5 537V538 M397.5 338V339M397.5 350V351M397.5 537V538 M400.5 338V339M400.5 350V351M400.5 537V538 M403.5 338V339M403.5 350V351M403.5 537V538 M406.5 338V339M406.5 350V351M406.5 537V538 M409.5 338V339M409.5 350V351M409.5 537V538 M412.5 338V339M412.5 350V351M412.5 537V538 M415.5 338V339M415.5 350V351M415.5 537V538 M418.5 338V339M418.5 350V351M418.5 537V538 M421.5 338V339M421.5 350V351M421.5 537V538 M424.5 338V339M424.5 350V351M424.5 537V538 M427.5 338V339M427.5 350V351M427.5 537V538 M430.5 338V339M430.5 350V351M430.5 537V538 M433.5 338V339M433.5 350V351M433.5 537V538 M436.5 338V339M436.5 350V351M436.5 537V538 M439.5 338V339M439.5 350V351M439.5 537V538 M442.5 338V339M442.5 350V351M442.5 537V538 M445.5 338V339M445.5 350V351M445.5 537V538 M448.5 338V339M448.5 350V351M448.5 537V538 M451.5 338V339M451.5 350V351M451.5 537V538 M454.5 338V339M454.5 350V351M454.5 537V538 M457.5 338V339M457.5 350V351M457.5 537V538 M460.5 338V339M460.5 350V351M460.5 537V538 M463.5 338V339M463.5 350V351M463.5 537V538 M466.5 338V339M466.5 350V351M466.5 537V538 M469.5 338V339M469.5 350V351M469.5 537V538 M472.5 338V339M472.5 350V351M472.5 537V538 M475.5 338V339M475.5 350V351M475.5 537V538 M478.5 338V339M478.5 350V351M478.5 537V538 M481.5 338V339M481.5 350V351M481.5 537V538 M483.5 338V339M483.5 350V351M483.5 537V538 M486.5 338V339M486.5 350V351M486.5 537V538 M489.5 338V339M489.5 350V351M489.5 537V538 M492.5 338V339M492.5 350V351M492.5 537V538 M495.5 338V339M495.5 350V351M495.5 537V538 M498.5 338V339M498.5 350V351M498.5 537V538 M501.5 338V339M501.5 350V351M501.5 537V538 M504.5 338V339M504.5 350V351M504.5 537V538 M507.5 338V339M507.5 350V351M507.5 537V538 M510.5 338V339M510.5 350V351M510.5 537V538 M513.5 338V339M513.5 350V351M513.5 537V538 M516.5 338V339M516.5 350V351M516.5 537V538 M519.5 338V339M519.5 350V351M519.5 537V538 M522.5 338V339M522.5 350V351M522.5 537V538 M525.5 338V339M525.5 350V351M525.5 537V538 M528.5 338V339M528.5 350V351M528.5 537V538 M531.5 338V339M531.5 350V351M531.5 537V538 M534.5 338V339M534.5 350V351M534.5 537V538 M537.5 338V339M537.5 350V351M537.5 537V538 M540.5 338V339M540.5 350V351M540.5 537V538 M543.5 338V339M543.5 350V351M543.5 537V538 M546.5 338V339M546.5 350V351M546.5 537V538 M549.5 338V339M549.5 350V351M549.5 537V538 M552.5 338V339M552.5 350V351M552.5 537V538 M555.5 338V339M555.5 350V351M555.5 537V538 M558.5 338V339M558.5 350V351M558.5 537V538 M561.5 338V339M561.5 350V351M561.5 537V538 M564.5 338V339M564.5 350V351M564.5 537V538 M567.5 338V339M567.5 350V351M567.5 537V538 M570.5 338V339M570.5 350V351M570.5 537V538 M573.5 338V339M573.5 350V351M573.5 537V538 M576.5 338V339M576.5 350V351M576.5 537V538 M579.5 338V339M579.5 350V351M579.5 537V538 M582.5 338V339M582.5 350V351M582.5 537V538 M584.5 338V339M584.5 350V351M584.5 537V538 M587.5 338V339M587.5 350V351M587.5 537V538 M590.5 338V339M590.5 350V351M590.5 537V538 M593.5 338V339M593.5 350V351M593.5 537V538 M596.5 338V339M596.5 350V351M596.5 537V538 M599.5 338V339M599.5 350V351M599.5 537V538 M602.5 338V339M602.5 350V351M602.5 537V538 M605.5 338V339M605.5 350V351M605.5 537V538 M608.5 338V339M608.5 350V351M608.5 537V538 M611.5 338V339M611.5 350V351M611.5 537V538 M614.5 338V339M614.5 350V351M614.5 537V538 M617.5 338V339M617.5 350V351M617.5 537V538 M620.5 338V339M620.5 350V351M620.5 537V538 M623.5 338V339M623.5 350V351M623.5 537V538 M626.5 338V339M626.5 350V351M626.5 537V538 M629.5 338V339M629.5 350V351M629.5 537V538 M632.5 338V339M632.5 350V351M632.5 537V538 M635.5 338V339M635.5 350V351M635.5 537V538 M638.5 338V339M638.5 350V351M638.5 537V538 M641.5 338V339M641.5 350V351M641.5 537V538 M644.5 338V339M644.5 350V351M644.5 537V538 M647.5 338V339M647.5 350V351M647.5 537V538 M650.5 338V339M650.5 350V351M650.5 537V538 M653.5 338V339M653.5 350V351M653.5 537V538 M656.5 338V339M656.5 350V351M656.5 537V538 M659.5 338V339M659.5 350V351M659.5 537V538 M662.5 338V339M662.5 350V351M662.5 537V538 M665.5 338V339M665.5 350V351M665.5 537V538 M668.5 338V339M668.5 350V351M668.5 537V538 M671.5 338V339M671.5 350V351M671.5 537V538 M674.5 338V339M674.5 350V351M674.5 537V538 M677.5 338V339M677.5 350V351M677.5 537V538 M680.5 338V339M680.5 350V351M680.5 537V538 M683.5 338V339M683.5 350V351M683.5 537V538 M686.5 338V339M686.5 350V351M686.5 537V538 M688.5 338V339M688.5 350V351M688.5 537V538 M691.5 338V339M691.5 350V351M691.5 537V538 M694.5 338V339M694.5 350V351M694.5 537V538 M697.5 338V339M697.5 350V351M697.5 537V538 M700.5 338V339M700.5 350V351M700.5 537V538 M703.5 338V339M703.5 350V351M703.5 537V538 M706.5 338V339M706.5 350V351M706.5 537V538 M709.5 338V339M709.5 350V351M709.5 537V538 M712.5 338V339M712.5 350V351M712.5 537V538 M715.5 338V339M715.5 350V351M715.5 537V538 M718.5 338V339M718.5 350V351M718.5 537V538 M721.5 338V339M721.5 350V351M721.5 537V538 M724.5 338V339M724.5 350V351M724.5 537V538 M727.5 338V339M727.5 350V351M727.5 537V538 M730.5 338V339M730.5 350V351M730.5 537V538 M789.5 338V339M789.5 350V351M789.5 537V538 M794.5 338V339M794.5 350V351M794.5 537V538 M799.5 338V339M799.5 350V351M799.5 537V538 M804.5 338V339M804.5 350V351M804.5 537V538 M809.5 338V339M809.5 350V351M809.5 537V538 M814.5 338V339M814.5 350V351M814.5 537V538 M819.5 338V339M819.5 350V351M819.5 537V538 M824.5 338V339M824.5 350V351M824.5 537V538 M829.5 338V339M829.5 350V351M829.5 537V538 M834.5 338V339M834.5 350V351M834.5 537V538 M839.5 338V339M839.5 350V351M839.5 537V538 M844.5 338V339M844.5 350V351M844.5 537V538 M849.5 338V339M849.5 350V351M849.5 537V538 M854.5 338V339M854.5 350V351M854.5 537V538 M859.5 338V339M859.5 350V351M859.5 537V538 M864.5 338V339M864.5 350V351M864.5 537V538 M869.5 338V339M869.5 350V351M869.5 537V538 M874.5 338V339M874.5 350V351M874.5 537V538 M879.5 338V339M879.5 350V351M879.5 537V538 M737 306.5H740 M737 299.5H738 M737 292.5H738 M737 286.5H738 M737 279.5H738 M737 273.5H740 M737 267.5H738 M737 261.5H738 M737 255.5H738 M737 249.5H738 M737 244.5H740 M737 238.5H738 M737 233.5H738 M737 228.5H738 M737 223.5H738 M737 218.5H740 M737 213.5H738 M737 208.5H738 M737 204.5H738 M737 199.5H738 M737 194.5H740 M737 190.5H738 M737 186.5H738 M737 181.5H738 M737 177.5H738 M737 173.5H740 M737 169.5H738 M737 165.5H738 M737 161.5H738 M737 157.5H738 M737 153.5H740 M737 149.5H738 M737 146.5H738 M737 142.5H738 M737 138.5H738 M737 135.5H740 M737 131.5H738 M737 128.5H738 M737 125.5H738 M737 121.5H738 M737 118.5H740 M737 115.5H738 M737 111.5H738 M737 108.5H738 M737 105.5H738 M737 102.5H740 M737 99.5H738 M737 96.5H738 M737 93.5H738 M737 90.5H738 M737 87.5H740 M737 84.5H738 M737 81.5H738 M737 78.5H738 M737 76.5H738 M737 73.5H740 M737 70.5H738 M737 67.5H738 M737 65.5H738 M737 62.5H738 M737 60.5H740 M737 57.5H738 M737 54.5H738 M737 52.5H738 M737 49.5H738 M737 47.5H740 M737 44.5H738 M737 42.5H738 M737 40.5H738 M737 37.5H738 M737 35.5H740 M887 316.5H890 M887 309.5H888 M887 302.5H888 M887 295.5H888 M887 289.5H890 M887 282.5H888 M887 275.5H888 M887 268.5H888 M887 262.5H890 M887 255.5H888 M887 249.5H888 M887 242.5H888 M887 236.5H890 M887 229.5H888 M887 223.5H888 M887 216.5H888 M887 210.5H890 M887 204.5H888 M887 197.5H888 M887 191.5H888 M887 185.5H890 M887 179.5H888 M887 173.5H888 M887 167.5H888 M887 160.5H890 M887 154.5H888 M887 148.5H888 M887 142.5H888 M887 136.5H890 M887 131.5H888 M887 125.5H888 M887 119.5H888 M887 113.5H890 M887 107.5H888 M887 101.5H888 M887 96.5H888 M887 90.5H890 M887 84.5H888 M887 79.5H888 M887 73.5H888 M887 67.5H890 M887 62.5H888 M887 56.5H888 M887 51.5H888 M887 45.5H890 M737 531.5H740 M737 517.5H740 M737 503.5H740 M737 489.5H740 M737 475.5H740 M737 461.5H740 M737 447.5H740 M737 433.5H740 M737 419.5H740 M737 405.5H740 M737 391.5H740 M737 377.5H740 M737 363.5H740 M887 532.5H888 M887 527.5H888 M887 523.5H888 M887 518.5H890 M887 514.5H888 M887 509.5H888 M887 504.5H888 M887 500.5H888 M887 495.5H890 M887 491.5H888 M887 486.5H888 M887 481.5H888 M887 477.5H888 M887 472.5H890 M887 468.5H888 M887 463.5H888 M887 459.5H888 M887 454.5H888 M887 449.5H890 M887 445.5H888 M887 440.5H888 M887 436.5H888 M887 431.5H888 M887 427.5H890 M887 422.5H888 M887 417.5H888 M887 413.5H888 M887 408.5H888 M887 404.5H890 M887 399.5H888 M887 394.5H888 M887 390.5H888 M887 385.5H888 M887 381.5H890 M887 376.5H888 M887 372.5H888 M887 367.5H888 M887 362.5H888 M887 358.5H890 M887 353.5H888" stroke="#646470" stroke-width="1" fill="none"/>
<g filter="url(#crisp)">
<text x="763.5" y="309.72" font-family="Liberation Sans" font-size="10" font-weight="normal" fill="#000" text-anchor="end" textLength="17.68" lengthAdjust="spacingAndGlyphs" >350</text>
<text x="763.5" y="276.77" font-family="Liberation Sans" font-size="10" font-weight="normal" fill="#000" text-anchor="end" textLength="17.68" lengthAdjust="spacingAndGlyphs" >400</text>
<text x="763.5" y="247.72" font-family="Liberation Sans" font-size="10" font-weight="normal" fill="#000" text-anchor="end" textLength="17.68" lengthAdjust="spacingAndGlyphs" >450</text>
<text x="763.5" y="221.72" font-family="Liberation Sans" font-size="10" font-weight="normal" fill="#000" text-anchor="end" textLength="17.68" lengthAdjust="spacingAndGlyphs" >500</text>
<text x="763.5" y="198.21" font-family="Liberation Sans" font-size="10" font-weight="normal" fill="#000" text-anchor="end" textLength="17.68" lengthAdjust="spacingAndGlyphs" >550</text>
<text x="763.5" y="176.75" font-family="Liberation Sans" font-size="10" font-weight="normal" fill="#000" text-anchor="end" textLength="17.68" lengthAdjust="spacingAndGlyphs" >600</text>
<text x="763.5" y="157" font-family="Liberation Sans" font-size="10" font-weight="normal" fill="#000" text-anchor="end" textLength="17.68" lengthAdjust="spacingAndGlyphs" >650</text>
<text x="763.5" y="138.72" font-family="Liberation Sans" font-size="10" font-weight="normal" fill="#000" text-anchor="end" textLength="17.68" lengthAdjust="spacingAndGlyphs" >700</text>
<text x="763.5" y="121.7" font-family="Liberation Sans" font-size="10" font-weight="normal" fill="#000" text-anchor="end" textLength="17.68" lengthAdjust="spacingAndGlyphs" >750</text>
<text x="763.5" y="105.77" font-family="Liberation Sans" font-size="10" font-weight="normal" fill="#000" text-anchor="end" textLength="17.68" lengthAdjust="spacingAndGlyphs" >800</text>
<text x="763.5" y="90.82" font-family="Liberation Sans" font-size="10" font-weight="normal" fill="#000" text-anchor="end" textLength="17.68" lengthAdjust="spacingAndGlyphs" >850</text>
<text x="763.5" y="76.72" font-family="Liberation Sans" font-size="10" font-weight="normal" fill="#000" text-anchor="end" textLength="17.68" lengthAdjust="spacingAndGlyphs" >900</text>
<text x="763.5" y="63.38" font-family="Liberation Sans" font-size="10" font-weight="normal" fill="#000" text-anchor="end" textLength="17.68" lengthAdjust="spacingAndGlyphs" >950</text>
<text x="763.5" y="50.73" font-family="Liberation Sans" font-size="10" font-weight="normal" fill="#000" text-anchor="end" textLength="23.24" lengthAdjust="spacingAndGlyphs" >1000</text>
<text x="763.5" y="38.69" font-family="Liberation Sans" font-size="10" font-weight="normal" fill="#000" text-anchor="end" textLength="23.24" lengthAdjust="spacingAndGlyphs" >1050</text>
<text x="913" y="319.84" font-family="Liberation Sans" font-size="10" font-weight="normal" fill="#000" text-anchor="end" textLength="17.68" lengthAdjust="spacingAndGlyphs" >820</text>
<text x="913" y="292.39" font-family="Liberation Sans" font-size="10" font-weight="normal" fill="#000" text-anchor="end" textLength="17.68" lengthAdjust="spacingAndGlyphs" >840</text>
<text x="913" y="265.59" font-family="Liberation Sans" font-size="10" font-weight="normal" fill="#000" text-anchor="end" textLength="17.68" lengthAdjust="spacingAndGlyphs" >860</text>
<text x="913" y="239.4" font-family="Liberation Sans" font-size="10" font-weight="normal" fill="#000" text-anchor="end" textLength="17.68" lengthAdjust="spacingAndGlyphs" >880</text>
<text x="913" y="213.81" font-family="Liberation Sans" font-size="10" font-weight="normal" fill="#000" text-anchor="end" textLength="17.68" lengthAdjust="spacingAndGlyphs" >900</text>
<text x="913" y="188.77" font-family="Liberation Sans" font-size="10" font-weight="normal" fill="#000" text-anchor="end" textLength="17.68" lengthAdjust="spacingAndGlyphs" >920</text>
<text x="913" y="164.28" font-family="Liberation Sans" font-size="10" font-weight="normal" fill="#000" text-anchor="end" textLength="17.68" lengthAdjust="spacingAndGlyphs" >940</text>
<text x="913" y="140.3" font-family="Liberation Sans" font-size="10" font-weight="normal" fill="#000" text-anchor="end" textLength="17.68" lengthAdjust="spacingAndGlyphs" >960</text>
<text x="913" y="116.81" font-family="Liberation Sans" font-size="10" font-weight="normal" fill="#000" text-anchor="end" textLength="17.68" lengthAdjust="spacingAndGlyphs" >980</text>
<text x="913" y="93.8" font-family="Liberation Sans" font-size="10" font-weight="normal" fill="#000" text-anchor="end" textLength="23.24" lengthAdjust="spacingAndGlyphs" >1000</text>
<text x="913" y="71.24" font-family="Liberation Sans" font-size="10" font-weight="normal" fill="#000" text-anchor="end" textLength="23.24" lengthAdjust="spacingAndGlyphs" >1020</text>
<text x="913" y="49.13" font-family="Liberation Sans" font-size="10" font-weight="normal" fill="#000" text-anchor="end" textLength="23.24" lengthAdjust="spacingAndGlyphs" >1040</text>
<text x="763.5" y="533.5" font-family="Liberation Sans" font-size="10" font-weight="normal" fill="#000" text-anchor="end" textLength="23.79" lengthAdjust="spacingAndGlyphs" >-10.0</text>
<text x="763.5" y="519.5" font-family="Liberation Sans" font-size="10" font-weight="normal" fill="#000" text-anchor="end" textLength="18.23" lengthAdjust="spacingAndGlyphs" >-7.5</text>
<text x="763.5" y="505.5" font-family="Liberation Sans" font-size="10" font-weight="normal" fill="#000" text-anchor="end" textLength="18.23" lengthAdjust="spacingAndGlyphs" >-5.0</text>
<text x="763.5" y="491.5" font-family="Liberation Sans" font-size="10" font-weight="normal" fill="#000" text-anchor="end" textLength="18.23" lengthAdjust="spacingAndGlyphs" >-2.5</text>
<text x="763.5" y="477.5" font-family="Liberation Sans" font-size="10" font-weight="normal" fill="#000" text-anchor="end" textLength="14.9" lengthAdjust="spacingAndGlyphs" >0.0</text>
<text x="763.5" y="463.5" font-family="Liberation Sans" font-size="10" font-weight="normal" fill="#000" text-anchor="end" textLength="14.9" lengthAdjust="spacingAndGlyphs" >2.5</text>
<text x="763.5" y="449.5" font-family="Liberation Sans" font-size="10" font-weight="normal" fill="#000" text-anchor="end" textLength="14.9" lengthAdjust="spacingAndGlyphs" >5.0</text>
<text x="763.5" y="435.5" font-family="Liberation Sans" font-size="10" font-weight="normal" fill="#000" text-anchor="end" textLength="14.9" lengthAdjust="spacingAndGlyphs" >7.5</text>
<text x="763.5" y="421.5" font-family="Liberation Sans" font-size="10" font-weight="normal" fill="#000" text-anchor="end" textLength="20.46" lengthAdjust="spacingAndGlyphs" >10.0</text>
<text x="763.5" y="407.5" font-family="Liberation Sans" font-size="10" font-weight="normal" fill="#000" text-anchor="end" textLength="20.46" lengthAdjust="spacingAndGlyphs" >12.5</text>
<text x="763.5" y="393.5" font-family="Liberation Sans" font-size="10" font-weight="normal" fill="#000" text-anchor="end" textLength="20.46" lengthAdjust="spacingAndGlyphs" >15.0</text>
<text x="763.5" y="379.5" font-family="Liberation Sans" font-size="10" font-weight="normal" fill="#000" text-anchor="end" textLength="20.46" lengthAdjust="spacingAndGlyphs" >17.5</text>
<text x="763.5" y="365.5" font-family="Liberation Sans" font-size="10" font-weight="normal" fill="#000" text-anchor="end" textLength="20.46" lengthAdjust="spacingAndGlyphs" >20.0</text>
<text x="911" y="520.9" font-family="Liberation Sans" font-size="10" font-weight="normal" fill="#000" text-anchor="end" textLength="14.9" lengthAdjust="spacingAndGlyphs" >7.0</text>
<text x="911" y="498" font-family="Liberation Sans" font-size="10" font-weight="normal" fill="#000" text-anchor="end" textLength="14.9" lengthAdjust="spacingAndGlyphs" >7.5</text>
<text x="911" y="475.1" font-family="Liberation Sans" font-size="10" font-weight="normal" fill="#000" text-anchor="end" textLength="14.9" lengthAdjust="spacingAndGlyphs" >8.0</text>
<text x="911" y="452.2" font-family="Liberation Sans" font-size="10" font-weight="normal" fill="#000" text-anchor="end" textLength="14.9" lengthAdjust="spacingAndGlyphs" >8.5</text>
<text x="911" y="429.3" font-family="Liberation Sans" font-size="10" font-weight="normal" fill="#000" text-anchor="end" textLength="14.9" lengthAdjust="spacingAndGlyphs" >9.0</text>
<text x="911" y="406.4" font-family="Liberation Sans" font-size="10" font-weight="normal" fill="#000" text-anchor="end" textLength="14.9" lengthAdjust="spacingAndGlyphs" >9.5</text>
<text x="911" y="383.5" font-family="Liberation Sans" font-size="10" font-weight="normal" fill="#000" text-anchor="end" textLength="20.46" lengthAdjust="spacingAndGlyphs" >10.0</text>
<text x="911" y="360.6" font-family="Liberation Sans" font-size="10" font-weight="normal" fill="#000" text-anchor="end" textLength="20.46" lengthAdjust="spacingAndGlyphs" >10.5</text>
<text x="49.21" y="347.6" font-family="Liberation Sans" font-size="10" font-weight="normal" fill="#000" text-anchor="middle" textLength="23" lengthAdjust="spacingAndGlyphs" >1998</text>
<text x="49.21" y="546.8" font-family="Liberation Sans" font-size="10" font-weight="normal" fill="#000" text-anchor="middle" textLength="23" lengthAdjust="spacingAndGlyphs" >1998</text>
<text x="84.86" y="347.6" font-family="Liberation Sans" font-size="10" font-weight="normal" fill="#000" text-anchor="middle" textLength="23" lengthAdjust="spacingAndGlyphs" >1999</text>
<text x="84.86" y="546.8" font-family="Liberation Sans" font-size="10" font-weight="normal" fill="#000" text-anchor="middle" textLength="23" lengthAdjust="spacingAndGlyphs" >1999</text>
<text x="120.52" y="347.6" font-family="Liberation Sans" font-size="10" font-weight="normal" fill="#000" text-anchor="middle" textLength="23" lengthAdjust="spacingAndGlyphs" >2000</text>
<text x="120.52" y="546.8" font-family="Liberation Sans" font-size="10" font-weight="normal" fill="#000" text-anchor="middle" textLength="23" lengthAdjust="spacingAndGlyphs" >2000</text>
<text x="156.17" y="347.6" font-family="Liberation Sans" font-size="10" font-weight="normal" fill="#000" text-anchor="middle" textLength="23" lengthAdjust="spacingAndGlyphs" >2001</text>
<text x="156.17" y="546.8" font-family="Liberation Sans" font-size="10" font-weight="normal" fill="#000" text-anchor="middle" textLength="23" lengthAdjust="spacingAndGlyphs" >2001</text>
<text x="191.82" y="347.6" font-family="Liberation Sans" font-size="10" font-weight="normal" fill="#000" text-anchor="middle" textLength="23" lengthAdjust="spacingAndGlyphs" >2002</text>
<text x="191.82" y="546.8" font-family="Liberation Sans" font-size="10" font-weight="normal" fill="#000" text-anchor="middle" textLength="23" lengthAdjust="spacingAndGlyphs" >2002</text>
<text x="227.47" y="347.6" font-family="Liberation Sans" font-size="10" font-weight="normal" fill="#000" text-anchor="middle" textLength="23" lengthAdjust="spacingAndGlyphs" >2003</text>
<text x="227.47" y="546.8" font-family="Liberation Sans" font-size="10" font-weight="normal" fill="#000" text-anchor="middle" textLength="23" lengthAdjust="spacingAndGlyphs" >2003</text>
<text x="263.12" y="347.6" font-family="Liberation Sans" font-size="10" font-weight="normal" fill="#000" text-anchor="middle" textLength="23" lengthAdjust="spacingAndGlyphs" >2004</text>
<text x="263.12" y="546.8" font-family="Liberation Sans" font-size="10" font-weight="normal" fill="#000" text-anchor="middle" textLength="23" lengthAdjust="spacingAndGlyphs" >2004</text>
<text x="298.78" y="347.6" font-family="Liberation Sans" font-size="10" font-weight="normal" fill="#000" text-anchor="middle" textLength="23" lengthAdjust="spacingAndGlyphs" >2005</text>
<text x="298.78" y="546.8" font-family="Liberation Sans" font-size="10" font-weight="normal" fill="#000" text-anchor="middle" textLength="23" lengthAdjust="spacingAndGlyphs" >2005</text>
<text x="334.43" y="347.6" font-family="Liberation Sans" font-size="10" font-weight="normal" fill="#000" text-anchor="middle" textLength="23" lengthAdjust="spacingAndGlyphs" >2006</text>
<text x="334.43" y="546.8" font-family="Liberation Sans" font-size="10" font-weight="normal" fill="#000" text-anchor="middle" textLength="23" lengthAdjust="spacingAndGlyphs" >2006</text>
<text x="370.08" y="347.6" font-family="Liberation Sans" font-size="10" font-weight="normal" fill="#000" text-anchor="middle" textLength="23" lengthAdjust="spacingAndGlyphs" >2007</text>
<text x="370.08" y="546.8" font-family="Liberation Sans" font-size="10" font-weight="normal" fill="#000" text-anchor="middle" textLength="23" lengthAdjust="spacingAndGlyphs" >2007</text>
<text x="405.73" y="347.6" font-family="Liberation Sans" font-size="10" font-weight="normal" fill="#000" text-anchor="middle" textLength="23" lengthAdjust="spacingAndGlyphs" >2008</text>
<text x="405.73" y="546.8" font-family="Liberation Sans" font-size="10" font-weight="normal" fill="#000" text-anchor="middle" textLength="23" lengthAdjust="spacingAndGlyphs" >2008</text>
<text x="441.38" y="347.6" font-family="Liberation Sans" font-size="10" font-weight="normal" fill="#000" text-anchor="middle" textLength="23" lengthAdjust="spacingAndGlyphs" >2009</text>
<text x="441.38" y="546.8" font-family="Liberation Sans" font-size="10" font-weight="normal" fill="#000" text-anchor="middle" textLength="23" lengthAdjust="spacingAndGlyphs" >2009</text>
<text x="477.04" y="347.6" font-family="Liberation Sans" font-size="10" font-weight="normal" fill="#000" text-anchor="middle" textLength="23" lengthAdjust="spacingAndGlyphs" >2010</text>
<text x="477.04" y="546.8" font-family="Liberation Sans" font-size="10" font-weight="normal" fill="#000" text-anchor="middle" textLength="23" lengthAdjust="spacingAndGlyphs" >2010</text>
<text x="512.69" y="347.6" font-family="Liberation Sans" font-size="10" font-weight="normal" fill="#000" text-anchor="middle" textLength="23" lengthAdjust="spacingAndGlyphs" >2011</text>
<text x="512.69" y="546.8" font-family="Liberation Sans" font-size="10" font-weight="normal" fill="#000" text-anchor="middle" textLength="23" lengthAdjust="spacingAndGlyphs" >2011</text>
<text x="548.34" y="347.6" font-family="Liberation Sans" font-size="10" font-weight="normal" fill="#000" text-anchor="middle" textLength="23" lengthAdjust="spacingAndGlyphs" >2012</text>
<text x="548.34" y="546.8" font-family="Liberation Sans" font-size="10" font-weight="normal" fill="#000" text-anchor="middle" textLength="23" lengthAdjust="spacingAndGlyphs" >2012</text>
<text x="583.99" y="347.6" font-family="Liberation Sans" font-size="10" font-weight="normal" fill="#000" text-anchor="middle" textLength="23" lengthAdjust="spacingAndGlyphs" >2013</text>
<text x="583.99" y="546.8" font-family="Liberation Sans" font-size="10" font-weight="normal" fill="#000" text-anchor="middle" textLength="23" lengthAdjust="spacingAndGlyphs" >2013</text>
<text x="619.64" y="347.6" font-family="Liberation Sans" font-size="10" font-weight="normal" fill="#000" text-anchor="middle" textLength="23" lengthAdjust="spacingAndGlyphs" >2014</text>
<text x="619.64" y="546.8" font-family="Liberation Sans" font-size="10" font-weight="normal" fill="#000" text-anchor="middle" textLength="23" lengthAdjust="spacingAndGlyphs" >2014</text>
<text x="655.3" y="347.6" font-family="Liberation Sans" font-size="10" font-weight="normal" fill="#000" text-anchor="middle" textLength="23" lengthAdjust="spacingAndGlyphs" >2015</text>
<text x="655.3" y="546.8" font-family="Liberation Sans" font-size="10" font-weight="normal" fill="#000" text-anchor="middle" textLength="23" lengthAdjust="spacingAndGlyphs" >2015</text>
<text x="690.95" y="347.6" font-family="Liberation Sans" font-size="10" font-weight="normal" fill="#000" text-anchor="middle" textLength="23" lengthAdjust="spacingAndGlyphs" >2016</text>
<text x="690.95" y="546.8" font-family="Liberation Sans" font-size="10" font-weight="normal" fill="#000" text-anchor="middle" textLength="23" lengthAdjust="spacingAndGlyphs" >2016</text>
<text x="726.6" y="347.6" font-family="Liberation Sans" font-size="10" font-weight="normal" fill="#000" text-anchor="middle" textLength="23" lengthAdjust="spacingAndGlyphs" >2017</text>
<text x="726.6" y="546.8" font-family="Liberation Sans" font-size="10" font-weight="normal" fill="#000" text-anchor="middle" textLength="23" lengthAdjust="spacingAndGlyphs" >2017</text>
<text x="812.3" y="347.6" font-family="Liberation Sans" font-size="10" font-weight="normal" fill="#000" text-anchor="middle" textLength="23" lengthAdjust="spacingAndGlyphs" >2016</text>
<text x="812.3" y="546.8" font-family="Liberation Sans" font-size="10" font-weight="normal" fill="#000" text-anchor="middle" textLength="23" lengthAdjust="spacingAndGlyphs" >2016</text>
<text x="872.3" y="347.6" font-family="Liberation Sans" font-size="10" font-weight="normal" fill="#000" text-anchor="middle" textLength="23" lengthAdjust="spacingAndGlyphs" >2017</text>
<text x="872.3" y="546.8" font-family="Liberation Sans" font-size="10" font-weight="normal" fill="#000" text-anchor="middle" textLength="23" lengthAdjust="spacingAndGlyphs" >2017</text>
</g>
<g filter="url(#soft)">
<text x="16.6" y="13.7" font-family="Liberation Sans" font-size="13.5" font-weight="bold" fill="#000" text-anchor="start" textLength="32.6" lengthAdjust="spacingAndGlyphs" >$OEX</text>
<text x="53.9" y="12.7" font-family="Liberation Sans" font-size="10.5" font-weight="normal" fill="#000" text-anchor="start" textLength="69.5" lengthAdjust="spacingAndGlyphs" >S&amp;P 100 Index</text>
<text x="128.4" y="12.7" font-family="Liberation Sans" font-size="9.3" font-weight="normal" fill="#000" text-anchor="start" textLength="23.2" lengthAdjust="spacingAndGlyphs" >INDX</text>
<text x="16" y="25.6" font-family="Liberation Sans" font-size="9.8" font-weight="normal" fill="#000" text-anchor="start" textLength="59" lengthAdjust="spacingAndGlyphs" >28-Feb-2017</text>
<text x="241.6" y="25.6" font-family="Liberation Sans" font-size="10.3" font-weight="bold" fill="#000" text-anchor="start" textLength="28.4" lengthAdjust="spacingAndGlyphs" >Open</text>
<text x="274.4" y="25.6" font-family="Liberation Sans" font-size="10" font-weight="normal" fill="#000" text-anchor="start" textLength="37.6" lengthAdjust="spacingAndGlyphs" >1008.71</text>
<text x="318.7" y="25.6" font-family="Liberation Sans" font-size="10.3" font-weight="bold" fill="#000" text-anchor="start" textLength="23.4" lengthAdjust="spacingAndGlyphs" >High</text>
<text x="346.5" y="25.6" font-family="Liberation Sans" font-size="10" font-weight="normal" fill="#000" text-anchor="start" textLength="38" lengthAdjust="spacingAndGlyphs" >1049.17</text>
<text x="390.6" y="25.6" font-family="Liberation Sans" font-size="10.3" font-weight="bold" fill="#000" text-anchor="start" textLength="23.3" lengthAdjust="spacingAndGlyphs" >Low</text>
<text x="418.4" y="25.6" font-family="Liberation Sans" font-size="10" font-weight="normal" fill="#000" text-anchor="start" textLength="37.9" lengthAdjust="spacingAndGlyphs" >1002.80</text>
<text x="462.7" y="25.6" font-family="Liberation Sans" font-size="10.3" font-weight="bold" fill="#000" text-anchor="start" textLength="31.2" lengthAdjust="spacingAndGlyphs" >Close</text>
<text x="498.2" y="25.6" font-family="Liberation Sans" font-size="10" font-weight="normal" fill="#000" text-anchor="start" textLength="37.6" lengthAdjust="spacingAndGlyphs" >1046.55</text>
<text x="543" y="25.6" font-family="Liberation Sans" font-size="10.3" font-weight="bold" fill="#000" text-anchor="start" textLength="42" lengthAdjust="spacingAndGlyphs" >Volume</text>
<text x="589.4" y="25.6" font-family="Liberation Sans" font-size="10" font-weight="normal" fill="#000" text-anchor="start" textLength="26.2" lengthAdjust="spacingAndGlyphs" >16.7B</text>
<text x="622.6" y="25.6" font-family="Liberation Sans" font-size="10.3" font-weight="bold" fill="#000" text-anchor="start" textLength="21.6" lengthAdjust="spacingAndGlyphs" >Chg</text>
<text x="647.7" y="25.6" font-family="Liberation Sans" font-size="10" font-weight="normal" fill="#000" text-anchor="start" textLength="78.6" lengthAdjust="spacingAndGlyphs" >+42.09 (+4.19%)</text>
<path d="M728.7 25H736.3L732.5 20.6Z" fill="#3e5a44" shape-rendering="geometricPrecision"/>
<text x="646.8" y="12.9" font-family="Liberation Sans" font-size="10.8" font-weight="normal" fill="#3c3c3c" text-anchor="start" textLength="89.5" lengthAdjust="spacingAndGlyphs" >© StockCharts.com</text>
</g>
<rect x="17" y="29" width="151" height="11" fill="#eff0f8"/>
<rect x="17" y="40" width="80" height="11" fill="#eff0f8"/>
<rect x="17" y="51" width="84" height="11" fill="#eff0f8"/>
<g filter="url(#soft)">
<text x="32.4" y="38.7" font-family="Liberation Sans" font-size="9.5" font-weight="normal" fill="#000" text-anchor="start" textLength="133.7" lengthAdjust="spacingAndGlyphs" >$OEX (Monthly) 1046.55</text>
<text x="29.4" y="50.8" font-family="Liberation Sans" font-size="10.3" font-weight="normal" fill="#006a00" text-anchor="start" textLength="65.8" lengthAdjust="spacingAndGlyphs" >EMA(6) 994.94</text>
<text x="29.4" y="60.9" font-family="Liberation Sans" font-size="10.3" font-weight="normal" fill="#9933ff" text-anchor="start" textLength="70.1" lengthAdjust="spacingAndGlyphs" >EMA(10) 975.29</text>
</g>
<path d="M19 45.5H28" stroke="#006a00" stroke-width="2"/>
<path d="M19 56.5H28" stroke="#9933ff" stroke-width="2"/>
<path d="M20.5 31V37M19 32.5H20M21 35.5H22M23.5 34V40M22 38.5H23M24 38.5H25M26.5 31V38M27 33.5H28M25 36.5H26" stroke="#000" stroke-width="1" fill="none"/>
<rect x="17" y="352" width="162" height="12" fill="#eff0f8"/>
<path d="M19 358.5H28" stroke="#000" stroke-width="2"/>
<g filter="url(#soft)">
<text x="31.3" y="362" font-family="Liberation Sans" font-size="10" font-weight="normal" fill="#000" text-anchor="start" textLength="117.1" lengthAdjust="spacingAndGlyphs" >PMO(35,20,10) 7.19,</text>
<text x="153.2" y="362" font-family="Liberation Sans" font-size="10" font-weight="normal" fill="#a0204a" text-anchor="start" textLength="24.2" lengthAdjust="spacingAndGlyphs" >7.13</text>
</g>
<path d="M537 489.5H720V510H537Z" fill="#9a9a9a" fill-opacity="0.55"/>
<path d="M714 489L730 449L720 489Z" fill="#9a9a9a" fill-opacity="0.55" shape-rendering="geometricPrecision"/>
<path d="M534.5 486.5H711.5L727.9 446.5L717.5 486.5V507.5H534.5Z" fill="#ffffff" stroke="#8c8c8c" stroke-width="1" shape-rendering="geometricPrecision"/>
<g filter="url(#soft)">
<text x="538" y="500.6" font-family="Liberation Sans" font-size="13.5" font-weight="bold" fill="#000" text-anchor="start" textLength="168.1" lengthAdjust="spacingAndGlyphs" >NEW LT PMO BUY Signal</text>
</g>
<path d="M887 91.5H924V100.5H887L884 96.0Z" fill="#fff" stroke="#006a00" stroke-width="1" shape-rendering="geometricPrecision"/>
<path d="M887 114.5H924V123.5H887L884 119.0Z" fill="#fff" stroke="#9933ff" stroke-width="1" shape-rendering="geometricPrecision"/>
<g filter="url(#soft)">
<text x="888.6" y="98.6" font-family="Liberation Sans" font-size="10" font-weight="normal" fill="#000" text-anchor="start" textLength="33.5" lengthAdjust="spacingAndGlyphs" >994.94</text>
<text x="888.6" y="121.6" font-family="Liberation Sans" font-size="10" font-weight="normal" fill="#000" text-anchor="start" textLength="33.5" lengthAdjust="spacingAndGlyphs" >975.29</text>
</g>
<path d="M887 33.5H931V43H887L884 38.25Z" fill="#fff" stroke="#000" stroke-width="1.6" shape-rendering="geometricPrecision"/>
<g filter="url(#soft)">
<text x="889" y="41.7" font-family="Liberation Sans" font-size="10.5" font-weight="bold" fill="#000" text-anchor="start" textLength="37.9" lengthAdjust="spacingAndGlyphs" >1046.55</text>
</g>
<path d="M887 507.5H911.5V516H887L884 511.75Z" fill="#fff" stroke="#a0204a" stroke-width="1" shape-rendering="geometricPrecision"/>
<path d="M887 504.5H911.5V513H887L884 508.75Z" fill="#fff" stroke="#000" stroke-width="1.2" shape-rendering="geometricPrecision"/>
<g filter="url(#soft)">
<text x="889.4" y="511.8" font-family="Liberation Sans" font-size="9" font-weight="normal" fill="#000" text-anchor="start" textLength="20" lengthAdjust="spacingAndGlyphs" >7.19</text>
</g>
</svg>
</body></html>
